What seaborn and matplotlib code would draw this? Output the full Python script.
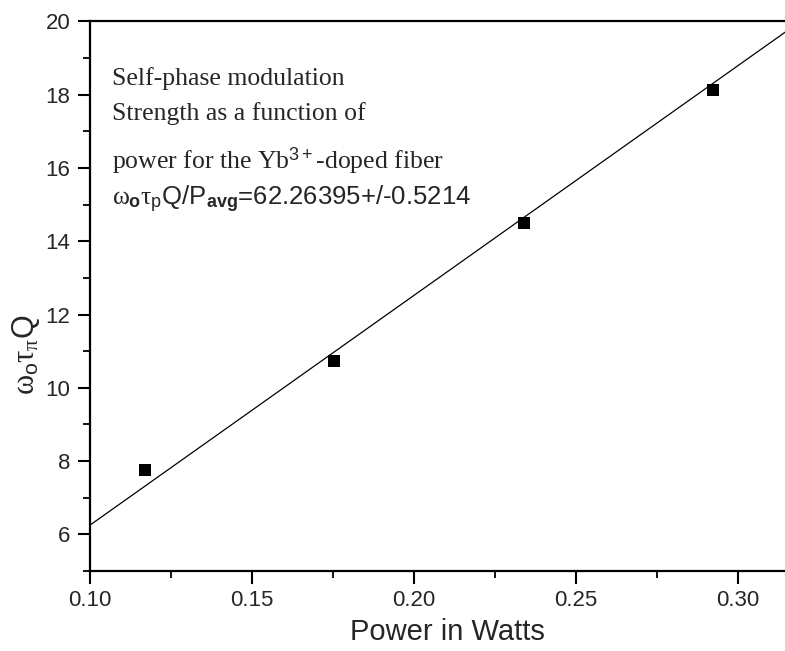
import numpy as np
import pandas as pd
import matplotlib
matplotlib.use('Agg')
import matplotlib.pyplot as plt
from matplotlib.ticker import MultipleLocator
import seaborn as sns

# datos
power = [0.117, 0.1754, 0.234, 0.2923]
spm = [7.75, 10.74, 14.51, 18.14]
# recta de ajuste (extremos leidos)
fit_x = [0.10, 0.32]
fit_y = [6.25, 20.05]

texto = ['Self-phase modulation',
         'Strength as a function of',
         r'power for the Yb$^{\mathit{3+}}$-doped fiber']
texto_fit = r'$\omega_{\mathbf{o}}\tau_{\mathrm{p}}$Q/P$_{\mathbf{avg}}$=62.26395+/-0.5214'

sns.set_style('ticks')
plt.rcParams['font.family'] = ['Liberation Sans', 'DejaVu Sans']
plt.rcParams['mathtext.fontset'] = 'custom'
plt.rcParams['mathtext.rm'] = 'Liberation Sans'
plt.rcParams['mathtext.it'] = 'Liberation Serif'
plt.rcParams['mathtext.bf'] = 'Liberation Sans:bold'

df = pd.DataFrame({'power': power, 'spm': spm})
ajuste = pd.DataFrame({'x': fit_x, 'y': fit_y})

fig = plt.figure(figsize=(7.85, 6.51), dpi=100)
ax = fig.add_axes([0.1146, 0.123, 0.8854, 0.844])

sns.lineplot(data=ajuste, x='x', y='y', color='black', linewidth=0.9, ax=ax)
sns.scatterplot(data=df, x='power', y='spm', marker='s', s=85, color='black',
                linewidth=0, ax=ax, zorder=3)

ax.set_xlim(0.10, 0.3145)
ax.set_ylim(5, 20)
ax.xaxis.set_major_locator(MultipleLocator(0.05))
ax.xaxis.set_minor_locator(MultipleLocator(0.025))
ax.yaxis.set_major_locator(MultipleLocator(2))
ax.yaxis.set_minor_locator(MultipleLocator(1))
ax.set_xticks([0.10, 0.15, 0.20, 0.25, 0.30])
ax.set_xticklabels(['0.10', '0.15', '0.20', '0.25', '0.30'])
ax.set_yticks([6, 8, 10, 12, 14, 16, 18, 20])
ax.tick_params(which='major', length=9, width=1.5, labelsize=16, pad=5, color='black')
ax.tick_params(which='minor', length=5, width=1.3, color='black')
for s in ['left', 'bottom', 'top']:
    ax.spines[s].set_linewidth(1.6)
    ax.spines[s].set_color('black')
ax.spines['right'].set_visible(False)

ax.set_xlabel('Power in Watts', fontsize=21)
ax.xaxis.set_label_coords(0.515, -0.085)
ax.set_ylabel(r'$\omega_{\mathrm{o}}\tau_{\pi}$Q', fontsize=22)
ax.yaxis.set_label_coords(-0.069, 0.393)

ys = [0.884, 0.821, 0.733]
for t, y in zip(texto, ys):
    ax.text(0.032, y, t, transform=ax.transAxes, fontsize=18.5,
            family=['Liberation Serif', 'DejaVu Serif'], va='baseline')
ax.text(0.032, 0.666, texto_fit, transform=ax.transAxes, fontsize=18.5, va='baseline')

fig.savefig('out.png', dpi=100)
